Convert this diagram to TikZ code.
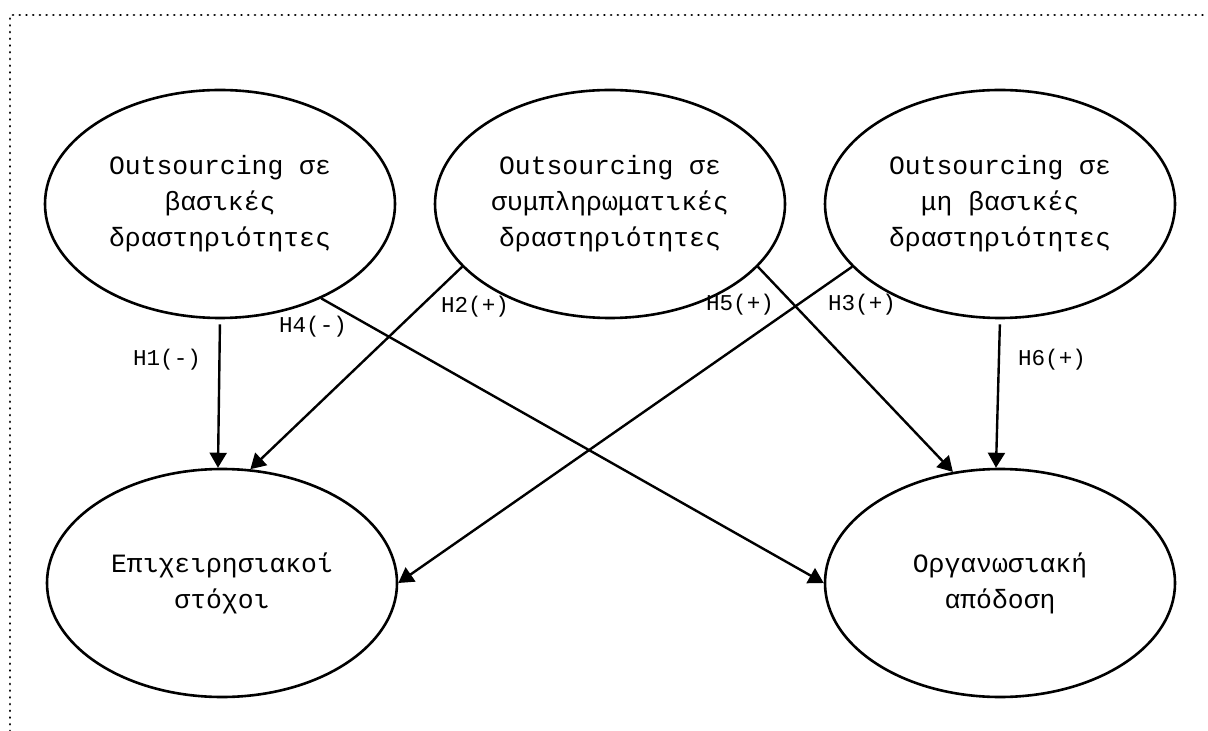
\documentclass[tikz,border=0pt]{standalone}
\usepackage{fontspec}
\setmainfont{Liberation Mono}
\usetikzlibrary{arrows.meta}
\usetikzlibrary{shapes.geometric}

\tikzset{
  construct/.style={ellipse, draw, line width=1.3pt, inner sep=0pt,
    minimum width=175pt, minimum height=114pt, align=center,
    font=\fontsize{13.2}{18}\selectfont},
  hyp/.style={line width=1.2pt, -{Triangle[length=7.5pt, width=8.5pt]}},
  hlabel/.style={inner sep=0pt, font=\fontsize{11.3}{13}\selectfont},
  frameline/.style={line width=1.4pt, line cap=round, dash pattern=on 0.01pt off 3.35pt}
}

\begin{document}
\begin{tikzpicture}[x=0.5pt, y=-0.5pt]
    \useasboundingbox (0,0) rectangle (1208,731);
    \draw[frameline] (10,731) -- (10,15) -- (1208,15);

    % outsourcing types
    \node[construct] (core) at (220,204) {Outsourcing σε\\βασικές\\δραστηριότητες};
    \node[construct] (compl) at (610,204) {Outsourcing σε\\συμπληρωματικές\\δραστηριότητες};
    \node[construct] (noncore) at (1000,204) {Outsourcing σε\\μη βασικές\\δραστηριότητες};

    % outcomes
    \node[construct] (goals) at (222,583) {Επιχειρησιακοί\\στόχοι};
    \node[construct] (perf) at (1000,583) {Οργανωσιακή\\απόδοση};

    \draw[hyp, shorten <=2.5pt] (core.south) -- (goals.92);
    \draw[hyp] (compl.203.5) -- (goals.76);
    \draw[hyp] (noncore.203.5) -- (goals.east);
    \draw[hyp] (core.-43) -- (perf.west);
    \draw[hyp] (compl.-23) -- (perf.113);
    \draw[hyp, shorten <=2.5pt] (noncore.south) -- (perf.92);

    \node[hlabel] (h1) at (167,360) {H1(-)};
    \node[hlabel] (h4) at (313,327) {H4(-)};
    \node[hlabel] (h2) at (475,307) {H2(+)};
    \node[hlabel] (h5) at (740,305) {H5(+)};
    \node[hlabel] (h3) at (862,305) {H3(+)};
    \node[hlabel] (h6) at (1052,360) {H6(+)};
  \end{tikzpicture}
\end{document}
